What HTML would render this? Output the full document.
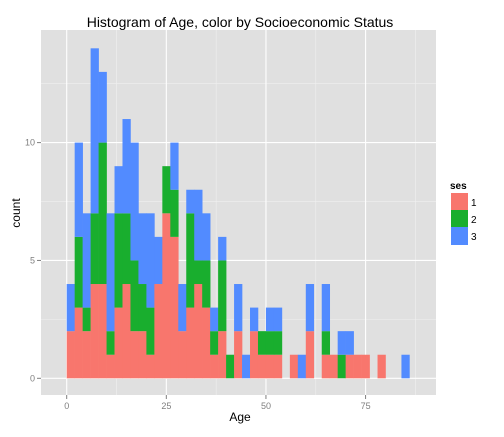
<!DOCTYPE html>
<html><head><meta charset="utf-8"><style>
body{margin:0;background:#fff;}
svg text{font-family:"Liberation Sans",Arial,sans-serif;}
</style></head><body>
<svg id="chart" width="504" height="432" xmlns="http://www.w3.org/2000/svg">
<rect x="41" y="30" width="395" height="365" fill="#e0e0e0"/>
<g id="grid"></g>
<g id="bars"></g>
<g id="axes"></g>
<text x="240" y="27" font-size="14" text-anchor="middle" fill="#000">Histogram of Age, color by Socioeconomic Status</text>
<text x="240" y="421" font-size="12" text-anchor="middle" fill="#000">Age</text>
<text x="20" y="213" font-size="12" text-anchor="middle" fill="#000" transform="rotate(-90 20 213)">count</text>
<g>
<text x="450" y="189" font-size="10" font-weight="bold" fill="#000">ses</text>
<rect x="451" y="193" width="17" height="17" fill="#f8766d"/>
<rect x="451" y="210" width="17" height="17" fill="#19ae2e"/>
<rect x="451" y="227" width="17" height="18" fill="#528bff"/>
<text x="471" y="206" font-size="10" fill="#000">1</text>
<text x="471" y="223" font-size="10" fill="#000">2</text>
<text x="471" y="240" font-size="10" fill="#000">3</text>
</g>
</svg>
<script>
const binStarts = [0,2,4,6,8,10,12,14,16,18,20,22,24,26,28,30,32,34,36,38,40,42,44,46,48,50,52,54,56,58,60,62,64,66,68,70,72,74,76,78,80,82,84];
const ses1 = [2,3,2,4,4,1,3,4,2,2,1,4,7,6,2,3,4,3,1,2,0,2,0,2,1,1,1,0,1,0,2,0,1,1,0,1,1,1,0,1,0,0,0];
const ses2 = [0,3,1,3,6,1,4,3,3,2,2,0,2,2,0,4,1,2,1,3,1,0,0,0,1,1,1,0,0,0,0,0,1,0,1,0,0,0,0,0,0,0,0];
const ses3 = [2,4,4,7,3,5,2,4,5,3,4,2,0,2,2,1,3,2,1,1,0,2,1,1,0,1,1,0,0,1,2,0,2,0,1,1,0,0,0,0,0,0,1];
const xTicks = [0,25,50,75];
const yTicks = [0,5,10];
const binWidth = 2;
const colors = ['#f8766d','#19ae2e','#528bff'];
const NS='http://www.w3.org/2000/svg';
const xs = v => 66.7 + v*3.985;
const ys = v => 378.3 - v*23.57;
const grid=document.getElementById('grid'), bars=document.getElementById('bars'), axes=document.getElementById('axes');
function mk(tag, attrs, parent){const e=document.createElementNS(NS,tag);for(const k in attrs)e.setAttribute(k,attrs[k]);parent.appendChild(e);return e;}
// minor grid
for (let i=0;i<xTicks.length;i++){
  const m = xTicks[i]+12.5;
  const g=mk('line',{x1:xs(m),x2:xs(m),y1:30,y2:395,stroke:'#f0f0f0','stroke-width':0.6},grid);
  
  
}
for (let i=0;i<yTicks.length;i++){
  const m = yTicks[i]+2.5;
  const g=mk('line',{x1:41,x2:436,y1:ys(m),y2:ys(m),stroke:'#f0f0f0','stroke-width':0.6},grid);
  
  
}
xTicks.forEach(t=>{
  const g=mk('line',{x1:xs(t),x2:xs(t),y1:30,y2:395,stroke:'#fff','stroke-width':1.1},grid);
  
  
  const tk=mk('line',{x1:xs(t),x2:xs(t),y1:395,y2:399,stroke:'#7f7f7f','stroke-width':1},axes);
  
  
  const tx=mk('text',{x:xs(t),y:409,'font-size':9,'text-anchor':'middle',fill:'#7f7f7f'},axes);
  tx.textContent=t;
  
  
});
yTicks.forEach(t=>{
  const g=mk('line',{x1:41,x2:436,y1:ys(t),y2:ys(t),stroke:'#fff','stroke-width':1.1},grid);
  
  
  const tk=mk('line',{x1:37,x2:41,y1:ys(t),y2:ys(t),stroke:'#7f7f7f','stroke-width':1},axes);
  
  
  const tx=mk('text',{x:35,y:ys(t)+3,'font-size':9,'text-anchor':'end',fill:'#7f7f7f'},axes);
  tx.textContent=t;
  
  
});
const series=[ses1,ses2,ses3];
binStarts.forEach((b,i)=>{
  let base=0;
  series.forEach((s,k)=>{
    const v=s[i];
    if(v>0){
      const x0=xs(b), x1=xs(b+binWidth);
      const r=mk('rect',{x:x0,y:ys(base+v),width:x1-x0+0.3,height:ys(base)-ys(base+v),fill:colors[k]},bars);
      
      
    }
    base+=v;
  });
});
</script>
</body></html>
